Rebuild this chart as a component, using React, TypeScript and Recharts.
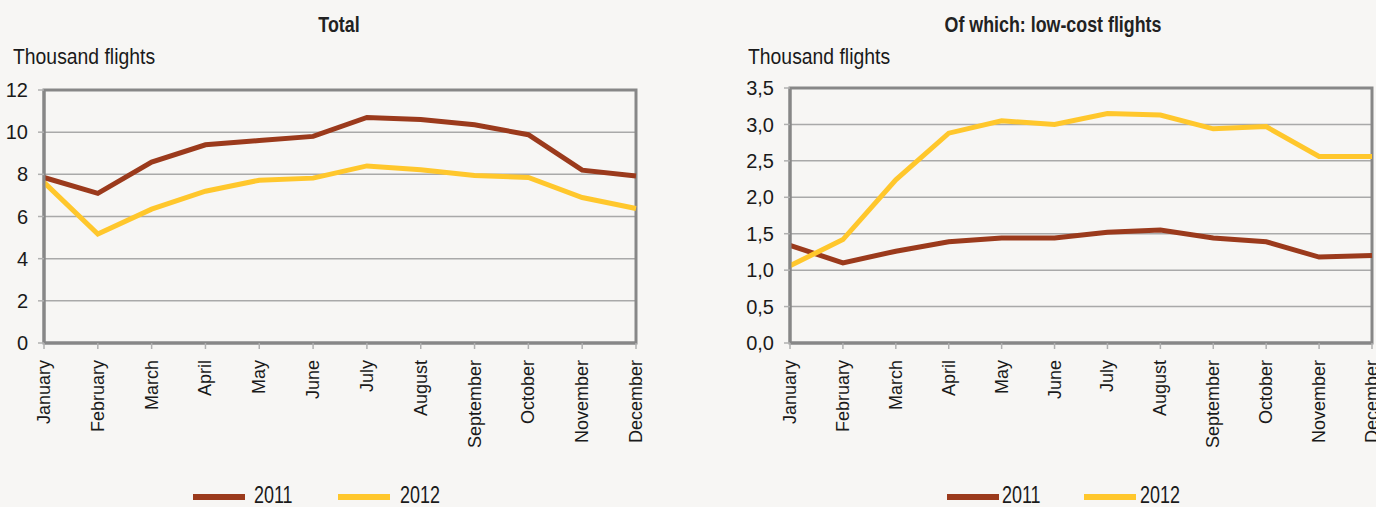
import { CartesianGrid, Line, LineChart, ReferenceArea, XAxis, YAxis } from "recharts";

const months = [
  "January", "February", "March", "April", "May", "June",
  "July", "August", "September", "October", "November", "December",
];

// total flights, thousands
const total2011 = [7.85, 7.1, 8.58, 9.4, 9.6, 9.8, 10.7, 10.6, 10.35, 9.88, 8.2, 7.92];
const total2012 = [7.62, 5.17, 6.35, 7.2, 7.72, 7.82, 8.4, 8.22, 7.95, 7.85, 6.9, 6.38];

// low-cost flights, thousands
const lowCost2011 = [1.34, 1.1, 1.26, 1.39, 1.44, 1.44, 1.52, 1.55, 1.44, 1.39, 1.18, 1.2];
const lowCost2012 = [1.06, 1.42, 2.24, 2.88, 3.05, 3.0, 3.15, 3.13, 2.94, 2.97, 2.56, 2.56];

const totalTicks = [0, 2, 4, 6, 8, 10, 12];
const lowCostTicks = [0, 0.5, 1, 1.5, 2, 2.5, 3, 3.5];

const seriesNames = ["2011", "2012"];
const COLORS: Record<string, string> = { "2011": "#9b3a1c", "2012": "#ffc72c" };

const FONT = "'Liberation Sans', Arial, sans-serif";
const BG = "#f7f6f4";
const BORDER = "#878787";
const INK = "#1a1a1a";

const totalData = months.map((m, i) => ({ month: m, "2011": total2011[i], "2012": total2012[i] }));
const lowCostData = months.map((m, i) => ({ month: m, "2011": lowCost2011[i], "2012": lowCost2012[i] }));

const MonthTick = (props: any) => {
  const { x, y, payload } = props;
  return (
    <g transform={`translate(${x},${y})`}>
      <text transform="rotate(-90)" textAnchor="end" dominantBaseline="central" fontFamily={FONT} fontSize={18} fill={INK}>
        {payload.value}
      </text>
    </g>
  );
};

function Panel(props: {
  data: any[];
  ticks: number[];
  fmt: (v: number) => string;
  left: number;
  width: number;
  top: number;
  marginRight: number;
}) {
  const { data, ticks, fmt, left, width, top, marginRight } = props;
  const max = ticks[ticks.length - 1];
  return (
    <div style={{ position: "absolute", left, top: 0 }}>
      <LineChart width={width} height={507} data={data} margin={{ top, right: marginRight, bottom: 54, left: 0 }}>
        <CartesianGrid vertical={false} stroke="#a9a9a9" strokeWidth={1.5} />
        <XAxis
          dataKey="month"
          interval={0}
          height={110}
          tick={<MonthTick />}
          tickSize={6}
          tickMargin={11}
          axisLine={{ stroke: BORDER, strokeWidth: 3 }}
          tickLine={{ stroke: "#b0b0b0", strokeWidth: 1.5 }}
        />
        <YAxis
          domain={[0, max]}
          ticks={ticks}
          width={44}
          tickFormatter={fmt}
          tickSize={6}
          tickMargin={10}
          tick={{ fontFamily: FONT, fontSize: 20, fill: INK }}
          axisLine={{ stroke: BORDER, strokeWidth: 3 }}
          tickLine={{ stroke: "#b0b0b0", strokeWidth: 1.5 }}
        />
        <ReferenceArea
          x1={months[0]}
          x2={months[months.length - 1]}
          y1={0}
          y2={max}
          fill="none"
          stroke={BORDER}
          strokeWidth={3}
          ifOverflow="visible"
        />
        {seriesNames.map((s) => (
          <Line
            key={s}
            type="linear"
            dataKey={s}
            stroke={COLORS[s]}
            strokeWidth={5}
            dot={false}
            isAnimationActive={false}
          />
        ))}
      </LineChart>
    </div>
  );
}

// condensed look: regular face squeezed horizontally
const Squeezed = ({ left, top, size, scale, bold, children }: any) => (
  <div
    style={{
      position: "absolute",
      left,
      top,
      fontFamily: FONT,
      fontSize: size,
      lineHeight: `${size}px`,
      fontWeight: bold ? 700 : 400,
      color: INK,
      whiteSpace: "nowrap",
      transform: `scaleX(${scale})`,
      transformOrigin: "left center",
    }}
  >
    {children}
  </div>
);

const Title = ({ center, text }: { center: number; text: string }) => (
  <div
    style={{
      position: "absolute",
      left: center - 300,
      width: 600,
      top: 14,
      textAlign: "center",
      fontFamily: FONT,
      fontSize: 22,
      lineHeight: "22px",
      fontWeight: 700,
      color: "#222",
      whiteSpace: "nowrap",
      transform: "scaleX(0.81)",
      transformOrigin: "center center",
    }}
  >
    {text}
  </div>
);

function LegendRow({ lines, labels }: { lines: number[]; labels: number[] }) {
  return (
    <>
      {seriesNames.map((s, i) => (
        <div key={s}>
          <div style={{ position: "absolute", left: lines[i], top: 494, width: 52, height: 6, background: COLORS[s] }} />
          <Squeezed left={labels[i]} top={484} size={23} scale={0.78}>
            {s}
          </Squeezed>
        </div>
      ))}
    </>
  );
}

export default function App() {
  const fmtTotal = (v: number) => String(v);
  const fmtLow = (v: number) => v.toFixed(1).replace(".", ",");
  return (
    <div
      style={{
        position: "absolute",
        left: 0,
        top: 0,
        width: 1376,
        height: 507,
        background: BG,
        overflow: "hidden",
      }}
    >
      <Title center={339} text="Total" />
      <Squeezed left={13} top={46} size={22} scale={0.88}>
        Thousand flights
      </Squeezed>
      <Panel data={totalData} ticks={totalTicks} fmt={fmtTotal} left={0} width={680} top={90} marginRight={44} />
      <LegendRow lines={[193, 338]} labels={[254, 400]} />

      <Title center={1053} text="Of which: low-cost flights" />
      <Squeezed left={748} top={46} size={22} scale={0.88}>
        Thousand flights
      </Squeezed>
      <Panel data={lowCostData} ticks={lowCostTicks} fmt={fmtLow} left={746} width={630} top={88} marginRight={4} />
      <LegendRow lines={[947, 1084]} labels={[1002, 1140]} />
    </div>
  );
}
